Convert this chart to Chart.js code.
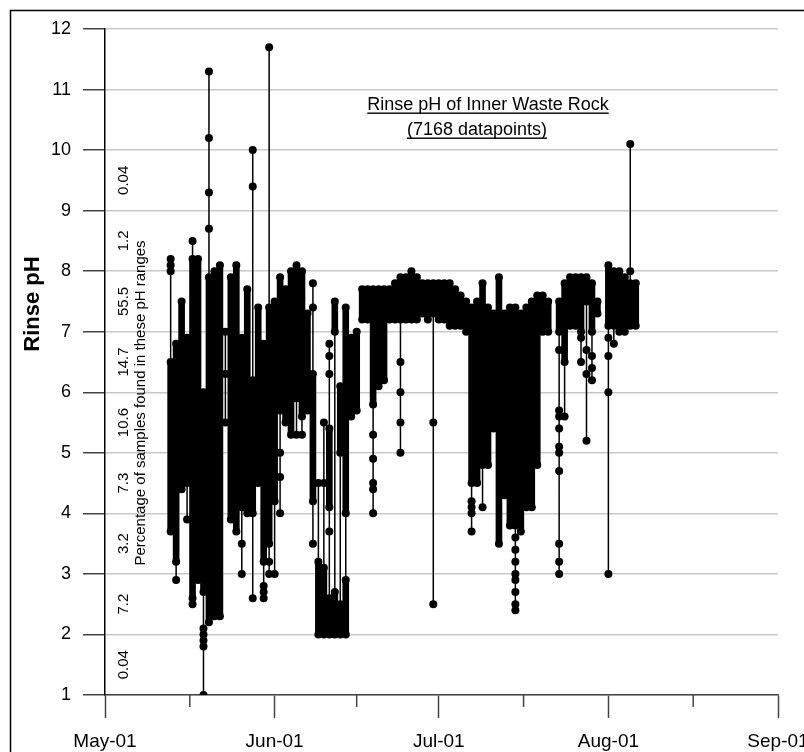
<!DOCTYPE html>
<html>
<head>
<meta charset="utf-8">
<script src="https://cdn.jsdelivr.net/npm/chart.js@4.4.1/dist/chart.umd.min.js"></script>
<style>
  body { margin: 0; background: #fff; }
  #wrap { width: 804px; height: 752px; }
</style>
</head>
<body>
<div id="wrap"><canvas id="phChart" width="804" height="752"></canvas></div>
<script>
// days counted from May 1 (= day 0)
var monthDays = [0, 31, 61, 92, 123];
var monthLabels = ["May-01", "Jun-01", "Jul-01", "Aug-01", "Sep-01"];
var midMonthDays = [15.5, 46, 76.5, 107.5];

// share of samples per 1-unit pH band (band middles)
var pctMid = [9.5, 8.5, 7.5, 6.5, 5.5, 4.5, 3.5, 2.5, 1.5];
var pctText = ["0.04", "1.2", "55.5", "14.7", "10.6", "7.3", "3.2", "7.2", "0.04"];

// dense stacks of readings: day, top pH, bottom pH
var stackDay = [12, 13, 14, 15, 16, 17, 18, 19, 20, 21, 23, 24, 25, 26, 27, 28, 29, 30, 31, 32,
  33, 34, 35, 36, 37, 38, 39, 40, 41, 41, 42, 42, 43, 43, 44, 44, 45, 46, 47, 48,
  49, 50, 51, 52, 53, 54, 55, 56, 57, 58, 59, 60, 61, 62, 63, 64, 65, 66, 67, 68,
  69, 70, 71, 72, 73, 74, 75, 76, 77, 78, 79, 80, 81, 83, 84, 85, 86, 87, 88, 89,
  90, 92, 93, 94, 95, 96, 97];
var stackHi = [6.5, 6.8, 7.5, 6.9, 8.2, 8.2, 6.0, 7.9, 8.0, 8.1, 7.9, 8.1, 6.9, 7.7, 6.2, 7.4, 6.8, 7.4, 7.5, 7.9,
  7.7, 8.0, 8.1, 8.0, 7.3, 6.3, 3.2, 3.1, 5.4, 2.6, 7.5, 2.7, 6.1, 2.5, 7.4, 2.9, 6.9, 7.0, 7.7, 7.7,
  7.7, 7.7, 7.7, 7.7, 7.8, 7.9, 7.9, 8.0, 7.9, 7.8, 7.8, 7.8, 7.8, 7.8, 7.8, 7.7, 7.6, 7.5, 7.4, 7.5,
  7.8, 7.4, 7.3, 7.9, 7.3, 7.4, 7.4, 7.3, 7.4, 7.5, 7.6, 7.6, 7.5, 7.5, 7.8, 7.9, 7.9, 7.9, 7.9, 7.8,
  7.5, 8.1, 8.0, 8.0, 7.9, 7.8, 7.8];
var stackLo = [3.7, 3.2, 4.4, 4.5, 2.6, 2.9, 2.7, 2.2, 2.3, 2.3, 3.9, 3.7, 4.1, 4.0, 4.0, 4.5, 3.2, 3.5, 4.2, 5.7,
  5.5, 5.3, 5.9, 5.6, 5.7, 4.2, 2.0, 2.0, 4.1, 2.0, 7.0, 2.0, 5.0, 2.0, 4.0, 2.0, 5.6, 5.7, 7.2, 7.2,
  5.8, 6.1, 6.2, 7.2, 7.2, 7.2, 7.2, 7.2, 7.2, 7.3, 7.2, 7.3, 7.2, 7.2, 7.1, 7.1, 7.1, 7.0, 4.5, 4.5,
  4.8, 4.8, 5.4, 3.5, 4.3, 3.8, 3.8, 3.7, 4.1, 4.1, 4.8, 7.0, 7.0, 7.0, 6.5, 7.1, 7.1, 7.0, 7.5, 7.0,
  7.3, 7.1, 7.1, 7.0, 7.0, 7.1, 7.1];

// single readings away from the stacks
var dotDay = [12, 12, 12, 13, 15, 16, 16, 18, 18, 18, 18, 18, 19, 19, 19, 19, 22, 22, 22, 25,
  25, 27, 27, 27, 29, 29, 29, 30, 30, 30, 31, 32, 32, 32, 35, 36, 38, 38, 38, 39,
  40, 40, 41, 41, 41, 41, 49, 49, 49, 49, 49, 54, 54, 54, 54, 60, 60, 67, 67, 67,
  67, 69, 75, 75, 75, 75, 75, 75, 75, 75, 83, 83, 83, 83, 83, 83, 83, 83, 83, 83,
  84, 87, 87, 88, 88, 88, 89, 89, 89, 92, 92, 92, 92, 93, 96, 96];
var dotPh = [8.2, 8.1, 8.0, 2.9, 3.9, 8.5, 2.5, 2.1, 2.0, 1.9, 1.8, 1.0, 11.3, 10.2, 9.3, 8.7, 7.0, 6.3, 5.5, 3.5,
  3.0, 10.0, 9.4, 2.6, 2.8, 2.7, 2.6, 11.7, 3.2, 3.0, 3.0, 5.0, 4.6, 4.0, 5.3, 5.3, 7.8, 7.4, 3.5, 4.5,
  5.5, 4.5, 6.8, 6.6, 6.3, 3.7, 5.3, 4.9, 4.5, 4.4, 4.0, 6.5, 6.0, 5.5, 5.0, 5.5, 2.5, 4.2, 4.1, 4.0,
  3.7, 4.1, 3.6, 3.4, 3.2, 3.0, 2.9, 2.7, 2.5, 2.4, 6.7, 5.7, 5.6, 5.4, 5.1, 5.0, 4.7, 3.5, 3.2, 3.0,
  5.6, 6.9, 6.5, 6.7, 6.3, 5.2, 6.6, 6.4, 6.2, 6.9, 6.6, 6.0, 3.0, 6.8, 10.1, 8.0];

var FONT = 'Arial, "Liberation Sans", sans-serif';
Chart.defaults.font.family = FONT;
Chart.defaults.color = '#000';

// vertical trace for each sampling day, from highest to lowest reading
var span = {};
function addSpan(d, v) {
  if (!span[d]) span[d] = { hi: v, lo: v };
  span[d].hi = Math.max(span[d].hi, v);
  span[d].lo = Math.min(span[d].lo, v);
}
stackDay.forEach(function (d, i) { addSpan(d, stackHi[i]); addSpan(d, stackLo[i]); });
dotDay.forEach(function (d, i) { addSpan(d, dotPh[i]); });
var traceData = [];
Object.keys(span).map(Number).sort(function (a, b) { return a - b; }).forEach(function (d) {
  traceData.push({ x: d, y: span[d].hi }, { x: d, y: span[d].lo }, { x: d, y: null });
});

var barData = stackDay.map(function (d, i) { return { x: d, y: [stackLo[i], stackHi[i]] }; });
var pointData = [];
stackDay.forEach(function (d, i) {
  pointData.push({ x: d, y: stackHi[i] }, { x: d, y: stackLo[i] });
});
dotDay.forEach(function (d, i) { pointData.push({ x: d, y: dotPh[i] }); });

function vText(ctx, txt, x, y, font) {
  ctx.save();
  ctx.translate(x, y);
  ctx.rotate(-Math.PI / 2);
  ctx.font = font;
  ctx.textAlign = 'center';
  ctx.textBaseline = 'alphabetic';
  ctx.fillText(txt, 0, 0);
  ctx.restore();
}

var extras = {
  id: 'extras',
  afterDraw: function (chart) {
    var ctx = chart.ctx, xs = chart.scales.x, ys = chart.scales.y;
    ctx.save();
    // minor ticks half way through each month
    ctx.strokeStyle = '#444';
    ctx.lineWidth = 1.5;
    midMonthDays.forEach(function (d) {
      var px = xs.getPixelForValue(d);
      ctx.beginPath();
      ctx.moveTo(px, xs.top);
      ctx.lineTo(px, xs.top + 12);
      ctx.stroke();
    });
    // outer frame
    ctx.strokeStyle = '#000';
    ctx.lineWidth = 1.5;
    ctx.beginPath();
    ctx.moveTo(10.5, 760);
    ctx.lineTo(10.5, 10.5);
    ctx.lineTo(810, 10.5);
    ctx.stroke();

    ctx.fillStyle = '#000';
    vText(ctx, 'Rinse pH', 39, 304, 'bold 22px ' + FONT);
    pctMid.forEach(function (v, i) {
      vText(ctx, pctText[i], 128, ys.getPixelForValue(v), '15px ' + FONT);
    });
    vText(ctx, 'Percentage of samples found in these pH ranges', 145, 403, '15px ' + FONT);

    // underlined title
    ctx.font = '18px ' + FONT;
    ctx.textAlign = 'center';
    ctx.textBaseline = 'alphabetic';
    [['Rinse pH of Inner Waste Rock', 488, 110], ['(7168 datapoints)', 477, 135]].forEach(function (t) {
      var w = ctx.measureText(t[0]).width;
      ctx.fillText(t[0], t[1], t[2]);
      ctx.fillRect(t[1] - w / 2, t[2] + 2.5, w, 1.4);
    });
    ctx.restore();
  }
};

new Chart(document.getElementById('phChart'), {
  type: 'bar',
  data: {
    datasets: [{
      type: 'scatter',
      data: pointData,
      pointRadius: 4,
      pointBackgroundColor: '#000',
      pointBorderWidth: 0,
      order: 0
    }, {
      type: 'line',
      data: traceData,
      borderColor: '#000',
      borderWidth: 1.5,
      pointRadius: 0,
      spanGaps: false,
      order: 1
    }, {
      type: 'bar',
      data: barData,
      backgroundColor: '#000',
      borderWidth: 0,
      barThickness: 6,
      borderRadius: 3,
      borderSkipped: false,
      order: 2
    }]
  },
  options: {
    responsive: false,
    animation: false,
    events: [],
    layout: { padding: { left: 10, top: 29, right: 26, bottom: 0 } },
    plugins: { legend: { display: false }, tooltip: { enabled: false } },
    scales: {
      x: {
        type: 'linear',
        min: 0,
        max: 123,
        offset: false,
        afterBuildTicks: function (s) {
          s.ticks = monthDays.map(function (v) { return { value: v }; });
        },
        afterFit: function (s) { s.height = 57; s.paddingLeft = 0; s.paddingRight = 0; },
        ticks: {
          autoSkip: false,
          maxRotation: 0,
          padding: 12,
          font: { size: 19 },
          color: '#000',
          callback: function (v, i) { return monthLabels[i]; }
        },
        grid: { drawOnChartArea: false, offset: false, tickLength: 23, tickColor: '#444', tickWidth: 1.5 },
        border: { color: '#444', width: 1.5 }
      },
      y: {
        min: 1,
        max: 12,
        afterFit: function (s) { s.width = 95; },
        ticks: { stepSize: 1, padding: 12, font: { size: 18 }, color: '#000' },
        grid: { color: '#c8c8c8', lineWidth: 1.5, tickLength: 22, tickColor: '#444', tickWidth: 1.5 },
        border: { color: '#000', width: 1.5 }
      }
    }
  },
  plugins: [extras]
});
</script>
</body>
</html>
